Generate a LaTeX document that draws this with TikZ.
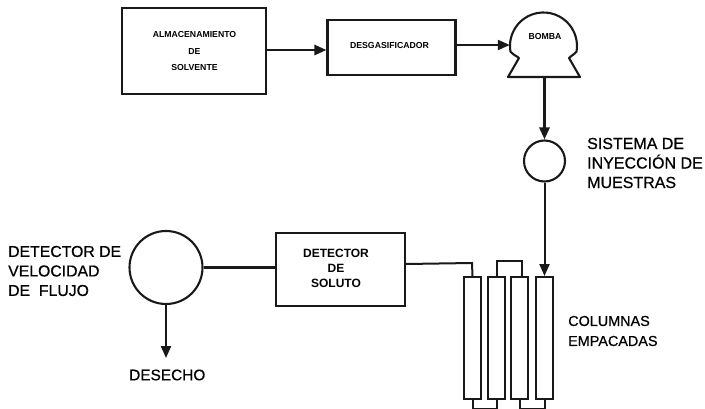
\documentclass[tikz,border=0pt]{standalone}
\usepackage{fontspec}
\setmainfont{Liberation Sans}
\newfontfamily\scanfont[FakeBold=0.6]{Liberation Sans}
\usetikzlibrary{arrows.meta}
\tikzset{
  x=1pt,y=-1pt,
  thinline/.style={line width=2pt,draw=black!90},
  heavy/.style={line width=2.8pt,draw=black!90},
  flow/.style={-{Triangle[length=12pt,width=10pt]}},
  boxnode/.style={draw=black!90,line width=2.1pt,inner sep=0pt,align=center},
  colnode/.style={draw=black!90,line width=1.9pt,minimum width=16.5pt,minimum height=122pt,inner sep=0pt},
  ringnode/.style={circle,draw=black!90,line width=2.1pt,inner sep=0pt},
  small/.style={font=\fontsize{8.7}{16.5}\selectfont\bfseries,align=center,inner sep=0pt},
  mid/.style={font=\fontsize{12}{15}\selectfont\bfseries,align=center,inner sep=0pt},
  big/.style={align=left,anchor=west,inner sep=0pt},
}
\begin{document}
\begin{tikzpicture}
\useasboundingbox (0,0) rectangle (705,409);
\node[boxnode,minimum width=144pt,minimum height=86pt] (store) at (194,51) {};
\node[small] (storetext) at (194.5,51.5) {ALMACENAMIENTO\\DE\\SOLVENTE};
\node[boxnode,minimum width=128pt,minimum height=55pt] (degas) at (391.5,47.5) {};
\node[small] (degastext) at (389.5,46) {DESGASIFICADOR};
\node[circle,minimum size=67pt,inner sep=0pt] (pump) at (543.5,46) {};
\node[small] (pumptext) at (545,37) {BOMBA};
\coordinate (pumpbase) at (544.5,77);
\draw[line width=2.1pt,draw=black!90,line join=round]
  (508,77) -- (519,58) .. controls (515,55) and (512,54) .. (510.5,51.8)
  arc[start angle=170,end angle=370,radius=33.5]
  .. controls (575,54) and (572,55) .. (569,58) -- (580,77) -- cycle;
\node[ringnode,minimum size=41pt] (inject) at (544.5,161) {};
\node[big,font=\fontsize{16}{19.5}\selectfont\scanfont] (injlabel) at (587,163) {SISTEMA DE\\INYECCIÓN DE\\MUESTRAS};
\node[colnode] (c1) at (472.5,338) {};
\node[colnode] (c2) at (496.5,338) {};
\node[colnode] (c3) at (519.5,338) {};
\node[colnode] (c4) at (544.5,338) {};
\node[big,font=\fontsize{14.4}{20}\selectfont\scanfont] (collabel) at (568,331) {COLUMNAS\\EMPACADAS};
\node[boxnode,minimum width=129pt,minimum height=73pt] (solute) at (340.5,269.5) {};
\node[mid] (solutetext) at (336,268) {DETECTOR\\DE\\SOLUTO};
\node[ringnode,minimum size=73pt] (flowdet) at (166,267.5) {};
\node[big,font=\fontsize{15.8}{19.5}\selectfont\scanfont] (flowlabel) at (8,271) {DETECTOR DE\\VELOCIDAD\\DE\ \ FLUJO};
\node[big,font=\fontsize{15.4}{19.5}\selectfont\scanfont] (waste) at (129,375) {DESECHO};
\draw[heavy,flow] (store.east |- 0,50) -- (degas.west |- 0,50);
\draw[thinline,flow] (degas.east |- 0,45) -- (pump.west |- 0,45);
\draw[heavy,flow] (pumpbase) -- (inject.north);
\draw[thinline,flow] (inject.south) -- (c4.north);
\draw[thinline] (c2.north) -- ++(0,-15) -| ([xshift=2pt]c3.north);
\draw[thinline] (c1.south) -- ++(0,9) -| (c2.south);
\draw[thinline] (c3.south) -- ++(0,9) -| (c4.south);
\draw[thinline] (solute.east |- 0,264) -- (472,263) -- (c1.north);
\draw[heavy] (flowdet.east) -- (solute.west |- flowdet.east);
\draw[thinline,flow] (flowdet.south) -- ++(0,53);
\end{tikzpicture}
\end{document}
